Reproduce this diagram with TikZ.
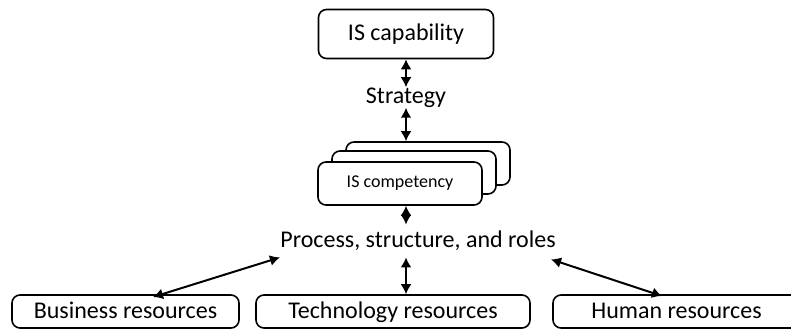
\documentclass[tikz,border=0pt]{standalone}
\usepackage{fontspec}
\setmainfont{Carlito}
\usetikzlibrary{arrows.meta,calc,positioning}

\begin{document}
\begin{tikzpicture}[x=0.5pt,y=-0.5pt,>={Latex[length=5pt,width=5.5pt]},font=\fontsize{12}{14}\selectfont]
\tikzstyle{box}=[draw,rounded corners=4pt,line width=0.8pt,inner sep=0pt]
\tikzstyle{comp}=[box,fill=white,minimum width=82pt,minimum height=21.5pt,font=\fontsize{9}{11}\selectfont]
\tikzstyle{res}=[box,minimum height=16.5pt,text height=8.5pt,text depth=2pt]
\tikzstyle{word}=[inner sep=0pt]
\tikzstyle{link}=[<->,line width=1pt]

\useasboundingbox (0,0) rectangle (791,331);

\node[box,minimum width=87.5pt,minimum height=24.5pt] (cap) at (406,34) {IS capability};
\node[word,minimum height=9.5pt] (strat) at (406,97.5) {Strategy};

% stacked competencies
\node[comp] (back) at (428,163.5) {};
\node[comp] (mid) at (414,172.5) {};
\node[comp] (front) at (400,183.5) {IS competency};

\node[word,minimum height=16pt] (proc) at (418,241) {Process, structure, and roles};

\node[res,minimum width=113.5pt] (bus) at (125.5,311.5) {Business resources};
\node[res,minimum width=137pt] (tech) at (393,311.5) {Technology resources};
\node[res,minimum width=123.5pt] (hum) at (676.5,311.5) {Human resources};

\coordinate (busin) at (153,297);
\coordinate (humin) at (662,296);

\draw[link] (cap.south) -- (strat.north);
\draw[link] (strat.south) -- (strat.south |- back.north);
\draw[link] (front.south -| strat) -- (proc.north -| strat);
\draw[link] (proc.south -| strat) -- (tech.north -| strat);
\draw[link] (proc.south west) -- (busin);
\draw[link] ($(proc.south east)+(-5,2)$) -- (humin);
\end{tikzpicture}
\end{document}
